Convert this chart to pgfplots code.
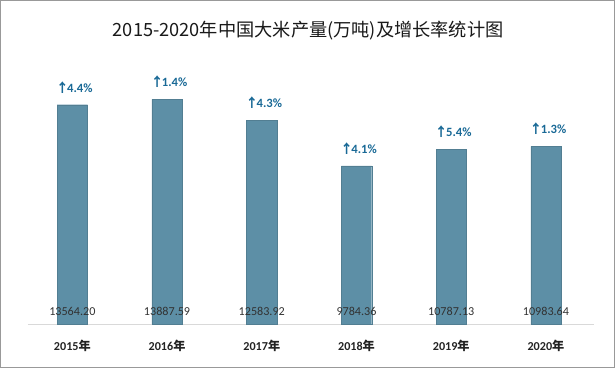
\documentclass[border=0pt]{standalone}
\usepackage{pgfplots}
\pgfplotsset{compat=1.18}
\usepackage{fontspec}
\setmainfont{Carlito}
\newfontfamily\cjk{Noto Sans CJK SC}
\definecolor{barc}{RGB}{93,143,166}
\definecolor{lab}{RGB}{25,105,150}
\definecolor{valc}{RGB}{50,50,50}
\definecolor{yearc}{RGB}{35,35,35}
\begin{document}
\begin{tikzpicture}
\begin{axis}[
  scale only axis, width=560pt, height=256pt,
  xmin=-0.47, xmax=5.51, ymin=0, ymax=16000,
  axis y line=none, axis x line=bottom,
  x axis line style={-, draw=black!15, line width=0.8pt},
  xtick=data, major tick length=0pt,
  xticklabels={2015{\cjk 年},2016{\cjk 年},2017{\cjk 年},2018{\cjk 年},2019{\cjk 年},2020{\cjk 年}},
  xticklabel style={font=\fontsize{12}{14}\selectfont\bfseries, text=yearc, yshift=-12pt},
  clip=false,
]
\addplot[ybar, bar width=30pt, fill=barc, draw=barc!88!black, line width=0.3pt,
  nodes near coords={{\cjk ↑}\kern-1.5pt\pgfplotspointmeta\%},
  point meta=explicit symbolic,
  every node near coord/.append style={font=\fontsize{12.5}{14}\selectfont\bfseries, text=lab, anchor=south, yshift=8pt, xshift=2pt}]
coordinates {(0,13564.20)[4.4] (1,13887.59)[1.4] (2,12583.92)[4.3] (3,9784.36)[4.1] (4,10787.13)[5.4] (5,10983.64)[1.3]};
\addplot[only marks, mark=none,
  nodes near coords={\pgfplotspointmeta},
  point meta=explicit symbolic,
  every node near coord/.append style={font=\fontsize{12}{14}\selectfont, text=valc, anchor=center, yshift=13pt}]
coordinates {(0,0)[13564.20] (1,0)[13887.59] (2,0)[12583.92] (3,0)[9784.36] (4,0)[10787.13] (5,0)[10983.64]};
\draw[black!40, line width=1pt] (rel axis cs:-0.0482,-0.168) rectangle (rel axis cs:1.0357,1.25);
\node[font=\cjk\fontsize{18}{20}\selectfont, text=black!90] at (rel axis cs:0.495,1.135) {2015-2020年中国大米产量(万吨)及增长率统计图};
\end{axis}
\end{tikzpicture}
\end{document}
